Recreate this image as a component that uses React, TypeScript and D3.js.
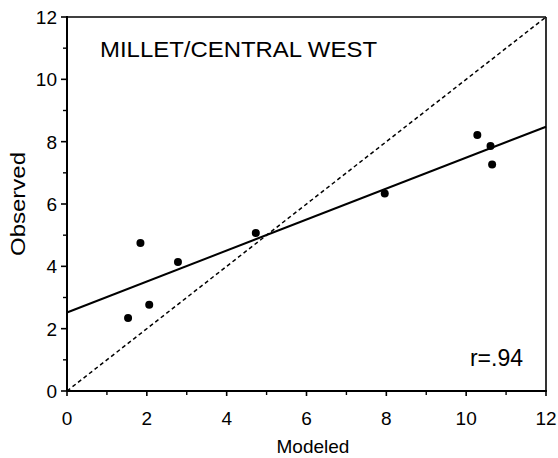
import React from "react";
import * as d3 from "d3";

const modeled = [1.53, 1.84, 2.06, 2.78, 4.73, 7.96, 10.28, 10.61, 10.65];
const observed = [2.34, 4.75, 2.77, 4.14, 5.07, 6.34, 8.21, 7.86, 7.27];
const fitLine = [
  { x: 0, y: 2.52 },
  { x: 12, y: 8.48 },
];
const oneToOne = [
  { x: 0, y: 0 },
  { x: 12, y: 12 },
];
const majorTicks = [0, 2, 4, 6, 8, 10, 12];
const minorTicks = [1, 3, 5, 7, 9, 11];
const title = "MILLET/CENTRAL WEST";
const rLabel = "r=.94";

const W = 558;
const H = 458;
const left = 67;
const right = 546;
const top = 17;
const bottom = 391;
const font = "'Liberation Sans', Arial, Helvetica, sans-serif";
const ink = { fill: "#000" };

export default function App() {
  const x = d3.scaleLinear().domain([0, 12]).range([left, right]);
  const y = d3.scaleLinear().domain([0, 12]).range([bottom, top]);
  const line = d3
    .line<{ x: number; y: number }>()
    .x((d) => x(d.x))
    .y((d) => y(d.y));

  return (
    <svg
      width={W}
      height={H}
      style={{ position: "absolute", left: 0, top: 0, background: "#fff" }}
    >
      <rect x={0} y={0} width={W} height={H} fill="#fff" />
      {/* frame */}
      <line x1={left} x2={right} y1={top} y2={top} stroke="#000" strokeWidth={1.6} />
      <line x1={right} x2={right} y1={top} y2={bottom} stroke="#000" strokeWidth={1.6} />
      <line x1={left} x2={right + 1} y1={bottom} y2={bottom} stroke="#000" strokeWidth={2} />
      <line x1={left} x2={left} y1={top - 1} y2={bottom} stroke="#000" strokeWidth={2} />

      {/* x ticks */}
      {majorTicks.map((t) => (
        <g key={"xt" + t}>
          <line x1={x(t)} x2={x(t)} y1={bottom} y2={bottom + 5} stroke="#000" strokeWidth={1.6} />
          <text
            x={x(t)}
            y={425}
            textAnchor="middle"
            fontFamily={font}
            fontSize={19}
            {...ink}
          >
            {t}
          </text>
        </g>
      ))}
      {minorTicks.map((t) => (
        <line key={"xm" + t} x1={x(t)} x2={x(t)} y1={bottom} y2={bottom + 4} stroke="#000" strokeWidth={1.4} />
      ))}

      {/* y ticks */}
      {majorTicks.map((t) => (
        <g key={"yt" + t}>
          <line x1={left - 6} x2={left} y1={y(t)} y2={y(t)} stroke="#000" strokeWidth={1.6} />
          <text
            x={57}
            y={y(t) + 7}
            textAnchor="end"
            fontFamily={font}
            fontSize={19}
            {...ink}
          >
            {t}
          </text>
        </g>
      ))}
      {minorTicks.map((t) => (
        <line key={"ym" + t} x1={left - 4} x2={left} y1={y(t)} y2={y(t)} stroke="#000" strokeWidth={1.4} />
      ))}

      {/* lines */}
      <path
        d={line(oneToOne) || ""}
        fill="none"
        stroke="#000"
        strokeWidth={1.5}
        strokeDasharray="4,3"
      />
      <path d={line(fitLine) || ""} fill="none" stroke="#000" strokeWidth={2} />

      {/* points */}
      {modeled.map((m, i) => (
        <circle key={"p" + i} cx={x(m)} cy={y(observed[i])} r={4} fill="#000" />
      ))}

      {/* texts */}
      <text
        x={100}
        y={57}
        fontFamily={font}
        fontSize={22}
        textLength={277}
        lengthAdjust="spacingAndGlyphs"
        {...ink}
      >
        {title}
      </text>
      <text
        x={523}
        y={366}
        textAnchor="end"
        fontFamily={font}
        fontSize={23}
        {...ink}
      >
        {rLabel}
      </text>
      <text
        x={313}
        y={453}
        textAnchor="middle"
        fontFamily={font}
        fontSize={19}
        {...ink}
      >
        Modeled
      </text>
      <text
        transform={`translate(25,204) rotate(-90)`}
        textAnchor="middle"
        fontFamily={font}
        fontSize={20}
        textLength={104}
        lengthAdjust="spacingAndGlyphs"
        {...ink}
      >
        Observed
      </text>
    </svg>
  );
}
